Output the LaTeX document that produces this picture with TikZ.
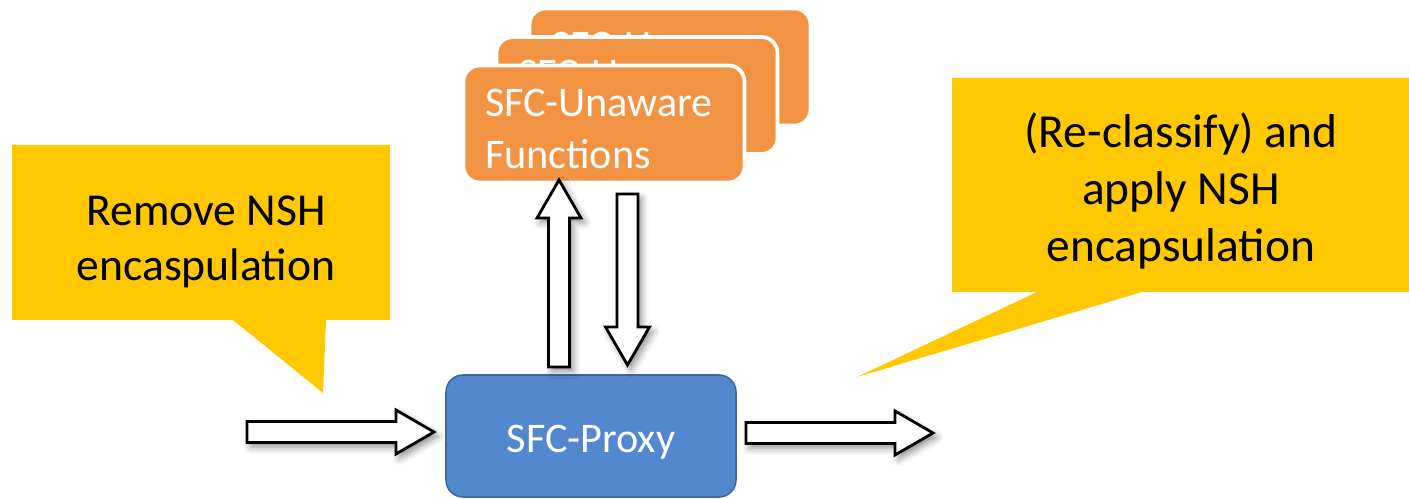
\documentclass[tikz,border=0pt]{standalone}
\usepackage{fontspec}
\setmainfont{Carlito}
\usetikzlibrary{calc,shadows.blur}
\definecolor{NoteYellow}{RGB}{255,200,0}
\definecolor{FuncOrange}{RGB}{242,147,68}
\definecolor{ProxyBlue}{RGB}{84,136,206}
\definecolor{ProxyEdge}{RGB}{62,104,163}

% hollow block arrow: start, direction, length
\newcommand{\fatarrow}[3]{%
	\begin{scope}[shift={(#1)}, rotate=#2]
		\draw[fat] (0,-10.5) -- ({#3-38},-10.5) -- ({#3-38},-22) -- (#3,0)
		-- ({#3-38},22) -- ({#3-38},10.5) -- (0,10.5) -- cycle;
	\end{scope}}

\begin{document}
\begin{tikzpicture}[
		x=0.02cm, y=-0.02cm,
		func/.style={fill=FuncOrange, draw=white, line width=2.1pt, rounded corners=0.32cm,
			minimum width=5.62cm, minimum height=2.34cm, text width=4.76cm, inner sep=0pt,
			text height=0.44cm, text depth=0.74cm,
			align=left, text=white, font=\fontsize{24}{29.6}\selectfont},
		proxy/.style={fill=ProxyBlue, draw=ProxyEdge, line width=0.9pt, rounded corners=0.34cm,
			minimum width=5.8cm, minimum height=2.44cm, inner sep=0pt, text=white,
			text height=0.68cm, text depth=0pt, font=\fontsize{24}{29.6}\selectfont},
		note/.style={align=center, inner sep=0pt},
		fat/.style={draw=black, fill=white, line width=1.6pt, line join=miter,
			blur shadow={shadow xshift=2pt, shadow yshift=-2.5pt, shadow blur radius=4pt, shadow opacity=45}}
		]
		\useasboundingbox (0,0) rectangle (1409,499);
		
		% ===== callouts =====
		\fill[NoteYellow] (12,145) -- (390,145) -- (390,320) -- (326,320) -- (323,393)
		-- (233,320) -- (12,320) -- cycle;
		\node[note, font=\fontsize{26}{31.3}\selectfont] (remove) at (206,242)
		{Remove NSH\\encaspulation};
		
		\fill[NoteYellow] (952,78) -- (1409,78) -- (1409,292) -- (1142,292) -- (857,377)
		-- (1037,292) -- (952,292) -- cycle;
		\node[note, font=\fontsize{27}{32.4}\selectfont] (apply) at (1181,191)
		{(Re-classify) and\\apply NSH\\encapsulation};
		
		% ===== stacked functions =====
		\foreach \i in {3,2,1}{
			\node[func] (fn\i) at ({604+33*(\i-1)},{124-28.5*(\i-1)}) {SFC-Unaware\\Functions};
		}
		
		% ===== proxy =====
		\node[proxy] (proxy) at (591,436) {SFC-Proxy};
		
		% ===== arrows =====
		\coordinate (inS) at (247,432);
		\coordinate (outS) at (746,433);
		\coordinate (upS) at (559,367);
		\coordinate (downS) at (627.5,194);
		\fatarrow{inS}{0}{187}
		\fatarrow{outS}{0}{187}
		\fatarrow{upS}{90}{187}
		\fatarrow{downS}{-90}{171}
		
	\end{tikzpicture}
\end{document}
